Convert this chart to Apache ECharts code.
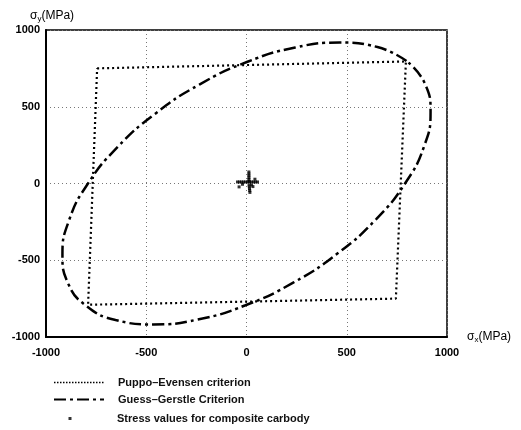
<!DOCTYPE html>
<html>
<head>
<meta charset="utf-8">
<script src="https://cdn.jsdelivr.net/npm/echarts@6/dist/echarts.min.js"></script>
<style>html,body{margin:0;padding:0;background:#fff}#c{width:521px;height:430px}</style>
</head>
<body>
<div id="c"></div>
<script>
// Axis ticks
const xTicks = [-1000, -500, 0, 500, 1000];
const yTicks = [-1000, -500, 0, 500, 1000];

// Guess-Gerstle criterion (ellipse)
const ggX = [798, 653, 464, 243, 5, -233, -455, -646, -793, -886, -918, -889, -798, -653, -464, -243, -5, 233, 455, 646, 793, 886, 918, 889, 798];
const ggY = [798, 889, 918, 886, 793, 646, 455, 233, -5, -243, -464, -653, -798, -889, -918, -886, -793, -646, -455, -233, 5, 243, 464, 653, 798];

// Puppo-Evensen criterion (quadrilateral)
const peX = [-745, 795, 745, -790, -745];
const peY = [750, 795, -750, -790, 750];

// Stress values for composite carbody
const stX = [-45, -35, -25, -15, -5, 5, 15, 25, 35, 45, 55, 12, 12, 12, 12, 12, 12, 13, 14, 15, 16, 17, -37, 32, 42, -20, 25];
const stY = [10, 10, 10, 10, 10, 10, 10, 10, 10, 10, 10, 75, 62, 50, 38, 26, 14, -10, -22, -34, -46, -58, -22, -20, 28, -5, -10];

const names = ['Puppo\u2013Evensen criterion', 'Guess\u2013Gerstle Criterion', 'Stress values for composite carbody'];

const zip = (a, b) => a.map((v, i) => [v, b[i]]);

const FONT = 'Liberation Sans, Arial, sans-serif';
const chart = echarts.init(document.getElementById('c'));
const labelStyle = { fontFamily: FONT, fontWeight: 'bold', fontSize: 11, color: '#000', formatter: v => String(v) };
const nameRich = {
  a: { fontFamily: FONT, fontSize: 12, color: '#000' },
  s: { fontFamily: FONT, fontSize: 8, color: '#000', padding: [6, 0, 0, 0] }
};
const legendText = { fontFamily: FONT, fontSize: 11, fontWeight: 'bold', color: '#111' };
chart.setOption({
  animation: false,
  backgroundColor: '#fff',
  grid: { left: 46, right: 74, top: 30, bottom: 93, show: true, borderColor: '#000', borderWidth: 1.5, containLabel: false },
  xAxis: {
    type: 'value', min: xTicks[0], max: xTicks[xTicks.length - 1], interval: 500,
    name: '{a|\u03c3}{s|x}{a|(MPa)}', nameLocation: 'end', nameGap: 20,
    nameTextStyle: { rich: nameRich },
    axisLine: { show: true, onZero: false, lineStyle: { color: '#000', width: 2 } },
    axisTick: { show: false },
    axisLabel: Object.assign({ margin: 10 }, labelStyle),
    splitLine: { show: true, lineStyle: { color: '#777', width: 1, type: [1, 3] } }
  },
  yAxis: {
    type: 'value', min: yTicks[0], max: yTicks[yTicks.length - 1], interval: 500,
    name: '{a|\u03c3}{s|y}{a|(MPa)}', nameLocation: 'end', nameGap: 7,
    nameTextStyle: { align: 'left', padding: [0, 0, 0, -16], rich: nameRich },
    axisLine: { show: true, onZero: false, lineStyle: { color: '#000', width: 2 } },
    axisTick: { show: false },
    axisLabel: Object.assign({ margin: 6 }, labelStyle),
    splitLine: { show: true, lineStyle: { color: '#777', width: 1, type: [1, 3] } }
  },
  legend: [
    {
      orient: 'vertical', left: 48, top: 372, itemWidth: 50, itemHeight: 8, itemGap: 6,
      textStyle: Object.assign({ padding: [0, 0, 0, 9] }, legendText),
      itemStyle: { opacity: 0 },
      data: [
        { name: names[0], lineStyle: { width: 1.5, type: [1.5, 1.5] } },
        { name: names[1] }
      ]
    },
    {
      orient: 'vertical', left: 63.5, top: 408, itemWidth: 3, itemHeight: 3,
      textStyle: Object.assign({ padding: [0, 0, 0, 40.5] }, legendText),
      data: [{ name: names[2], icon: 'rect' }]
    }
  ],
  series: [
    {
      name: names[0], type: 'line', data: zip(peX, peY), symbol: 'none',
      lineStyle: { color: '#000', width: 2.2, type: [2, 3] }, itemStyle: { color: '#000' }
    },
    {
      name: names[1], type: 'line', data: zip(ggX, ggY), symbol: 'none', smooth: 0.5,
      lineStyle: { color: '#000', width: 2.5, type: [12, 4, 3, 4] }, itemStyle: { color: '#000' }
    },
    {
      name: names[2], type: 'scatter', data: zip(stX, stY), symbol: 'rect', symbolSize: 3,
      itemStyle: { color: '#000' }
    }
  ]
});
</script>
</body>
</html>
